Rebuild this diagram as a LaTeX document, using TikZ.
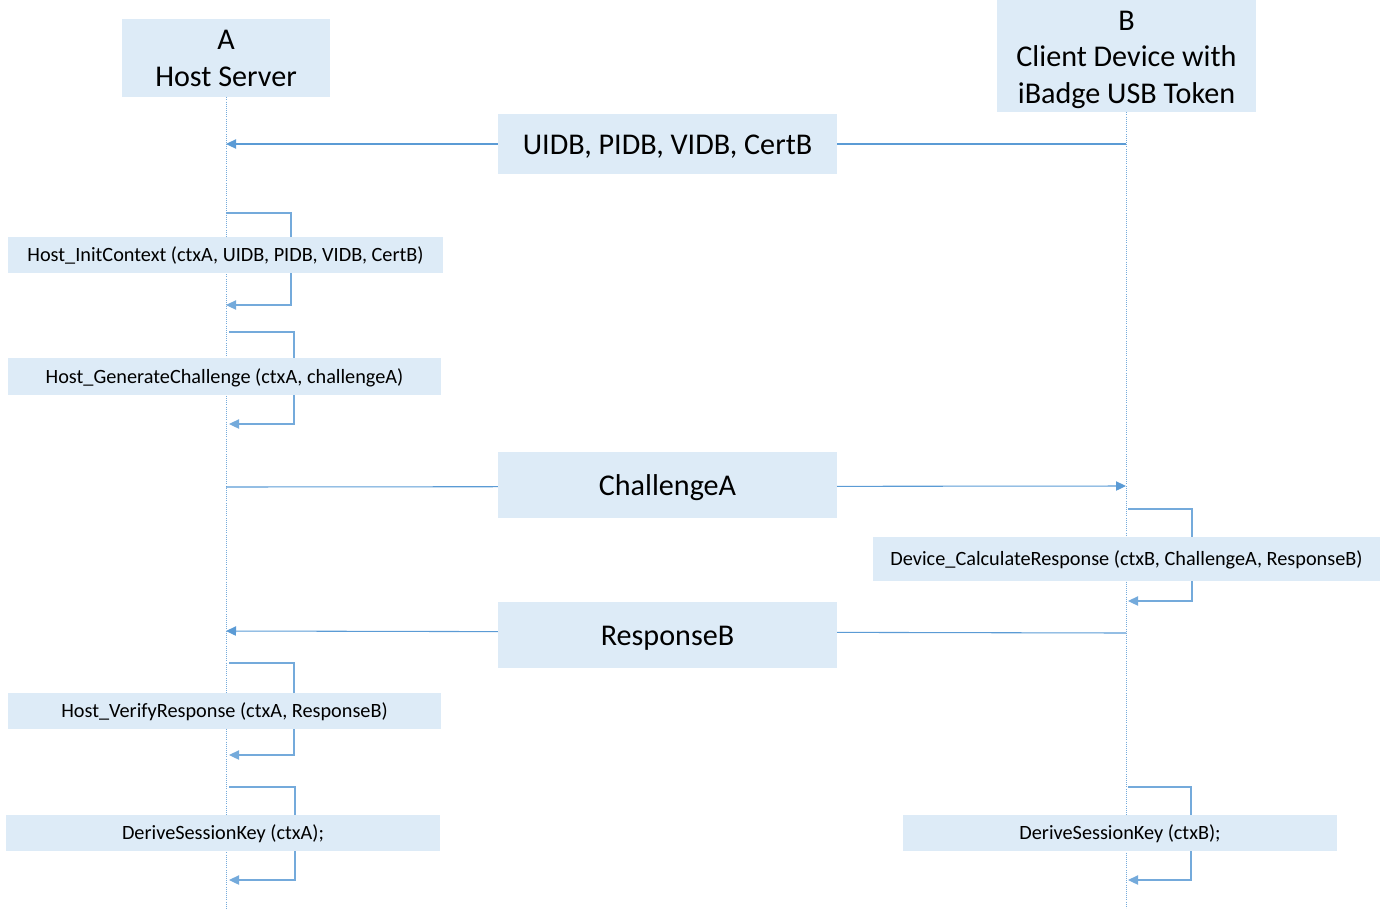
\documentclass[tikz,border=0pt]{standalone}
\usepackage{fontspec}
\setmainfont{Carlito}
\usetikzlibrary{arrows.meta,positioning,backgrounds}
\definecolor{boxfill}{RGB}{221,235,247}
\definecolor{msgblue}{RGB}{91,155,213}

\begin{document}
\begin{tikzpicture}[x=0.75pt, y=-0.75pt,
  actor/.style={fill=boxfill, align=center, inner sep=0pt, font=\fontsize{22.6}{27.4}\selectfont},
  msgbox/.style={fill=boxfill, align=center, inner sep=0pt, minimum width=254pt, text height=21pt, text depth=5pt, font=\fontsize{22.6}{27.4}\selectfont},
  callbox/.style={fill=boxfill, inner sep=0pt, minimum height=27pt, text height=13.3pt, text depth=3.5pt, font=\fontsize{15.2}{18}\selectfont},
  life/.style={msgblue!85, densely dotted, line width=0.6pt},
  arr/.style={-{Triangle[length=7.5pt,width=7pt]}, msgblue, line width=0.8pt},
  selfcall/.style={-{Triangle[length=7.5pt,width=7pt]}, msgblue!85, line width=0.8pt}
]
\useasboundingbox (0,0) rectangle (1387,908);

% participants
\node[actor, minimum width=156pt, minimum height=58.5pt, text height=42.5pt] (hostA) at (226,58) {A\\Host Server};
\node[actor, minimum width=194pt, minimum height=84pt, text height=75pt] (devB) at (1126.5,56) {B\\Client Device with\\iBadge USB Token};
\coordinate (endA) at (226,908);
\coordinate (endB) at (1126,908);

% messages between the two sides
\node[msgbox, minimum height=45pt] (ids) at (667.5,144) {UIDB, PIDB, VIDB, CertB};
\node[msgbox, minimum height=49.5pt] (chal) at (667.5,485) {ChallengeA};
\node[msgbox, minimum height=49.5pt] (resp) at (667.5,635) {ResponseB};

% local calls
\node[callbox, minimum width=326pt] (initctx) at (225.5,255) {Host\_InitContext (ctxA, UIDB, PIDB, VIDB, CertB)};
\node[callbox, minimum width=325pt, minimum height=28pt] (genchal) at (224.5,376.5) {Host\_GenerateChallenge (ctxA, challengeA)};
\node[callbox, minimum width=380pt, minimum height=33pt] (calcresp) at (1126.5,559) {Device\_CalculateResponse (ctxB, ChallengeA, ResponseB)};
\node[callbox, minimum width=325pt] (verify) at (224.5,711) {Host\_VerifyResponse (ctxA, ResponseB)};
\node[callbox, minimum width=325.5pt] (deriveA) at (223,833) {DeriveSessionKey (ctxA);};
\node[callbox, minimum width=325.5pt] (deriveB) at (1120,833) {DeriveSessionKey (ctxB);};

\begin{scope}[on background layer]
  % lifelines
  \draw[life] (hostA.south) -- (endA);
  \draw[life] (devB.south -| endB) -- (endB);
  % messages
  \draw[arr] (endB |- ids) -- (endA |- ids);
  \draw[arr] (endA |- 0,487) -- (endB |- 0,486);
  \draw[arr] (endB |- 0,633) -- (endA |- 0,631);
  % self calls on A
  \draw[selfcall] (endA |- 0,213) -- ++(65,0) |- (endA |- 0,305);
  \draw[selfcall] ([xshift=2.25pt]endA |- 0,332) -- ++(65,0) |- ([xshift=2.25pt]endA |- 0,424);
  \draw[selfcall] ([xshift=2.25pt]endA |- 0,663) -- ++(65,0) |- ([xshift=2.25pt]endA |- 0,755);
  \draw[selfcall] ([xshift=2.25pt]endA |- 0,787) -- ++(66,0) |- ([xshift=2.25pt]endA |- 0,880);
  % self calls on B
  \draw[selfcall] ([xshift=1.5pt]endB |- 0,509) -- ++(64,0) |- ([xshift=1.5pt]endB |- 0,601);
  \draw[selfcall] ([xshift=1.5pt]endB |- 0,787) -- ++(63,0) |- ([xshift=1.5pt]endB |- 0,880);
\end{scope}
\end{tikzpicture}
\end{document}
